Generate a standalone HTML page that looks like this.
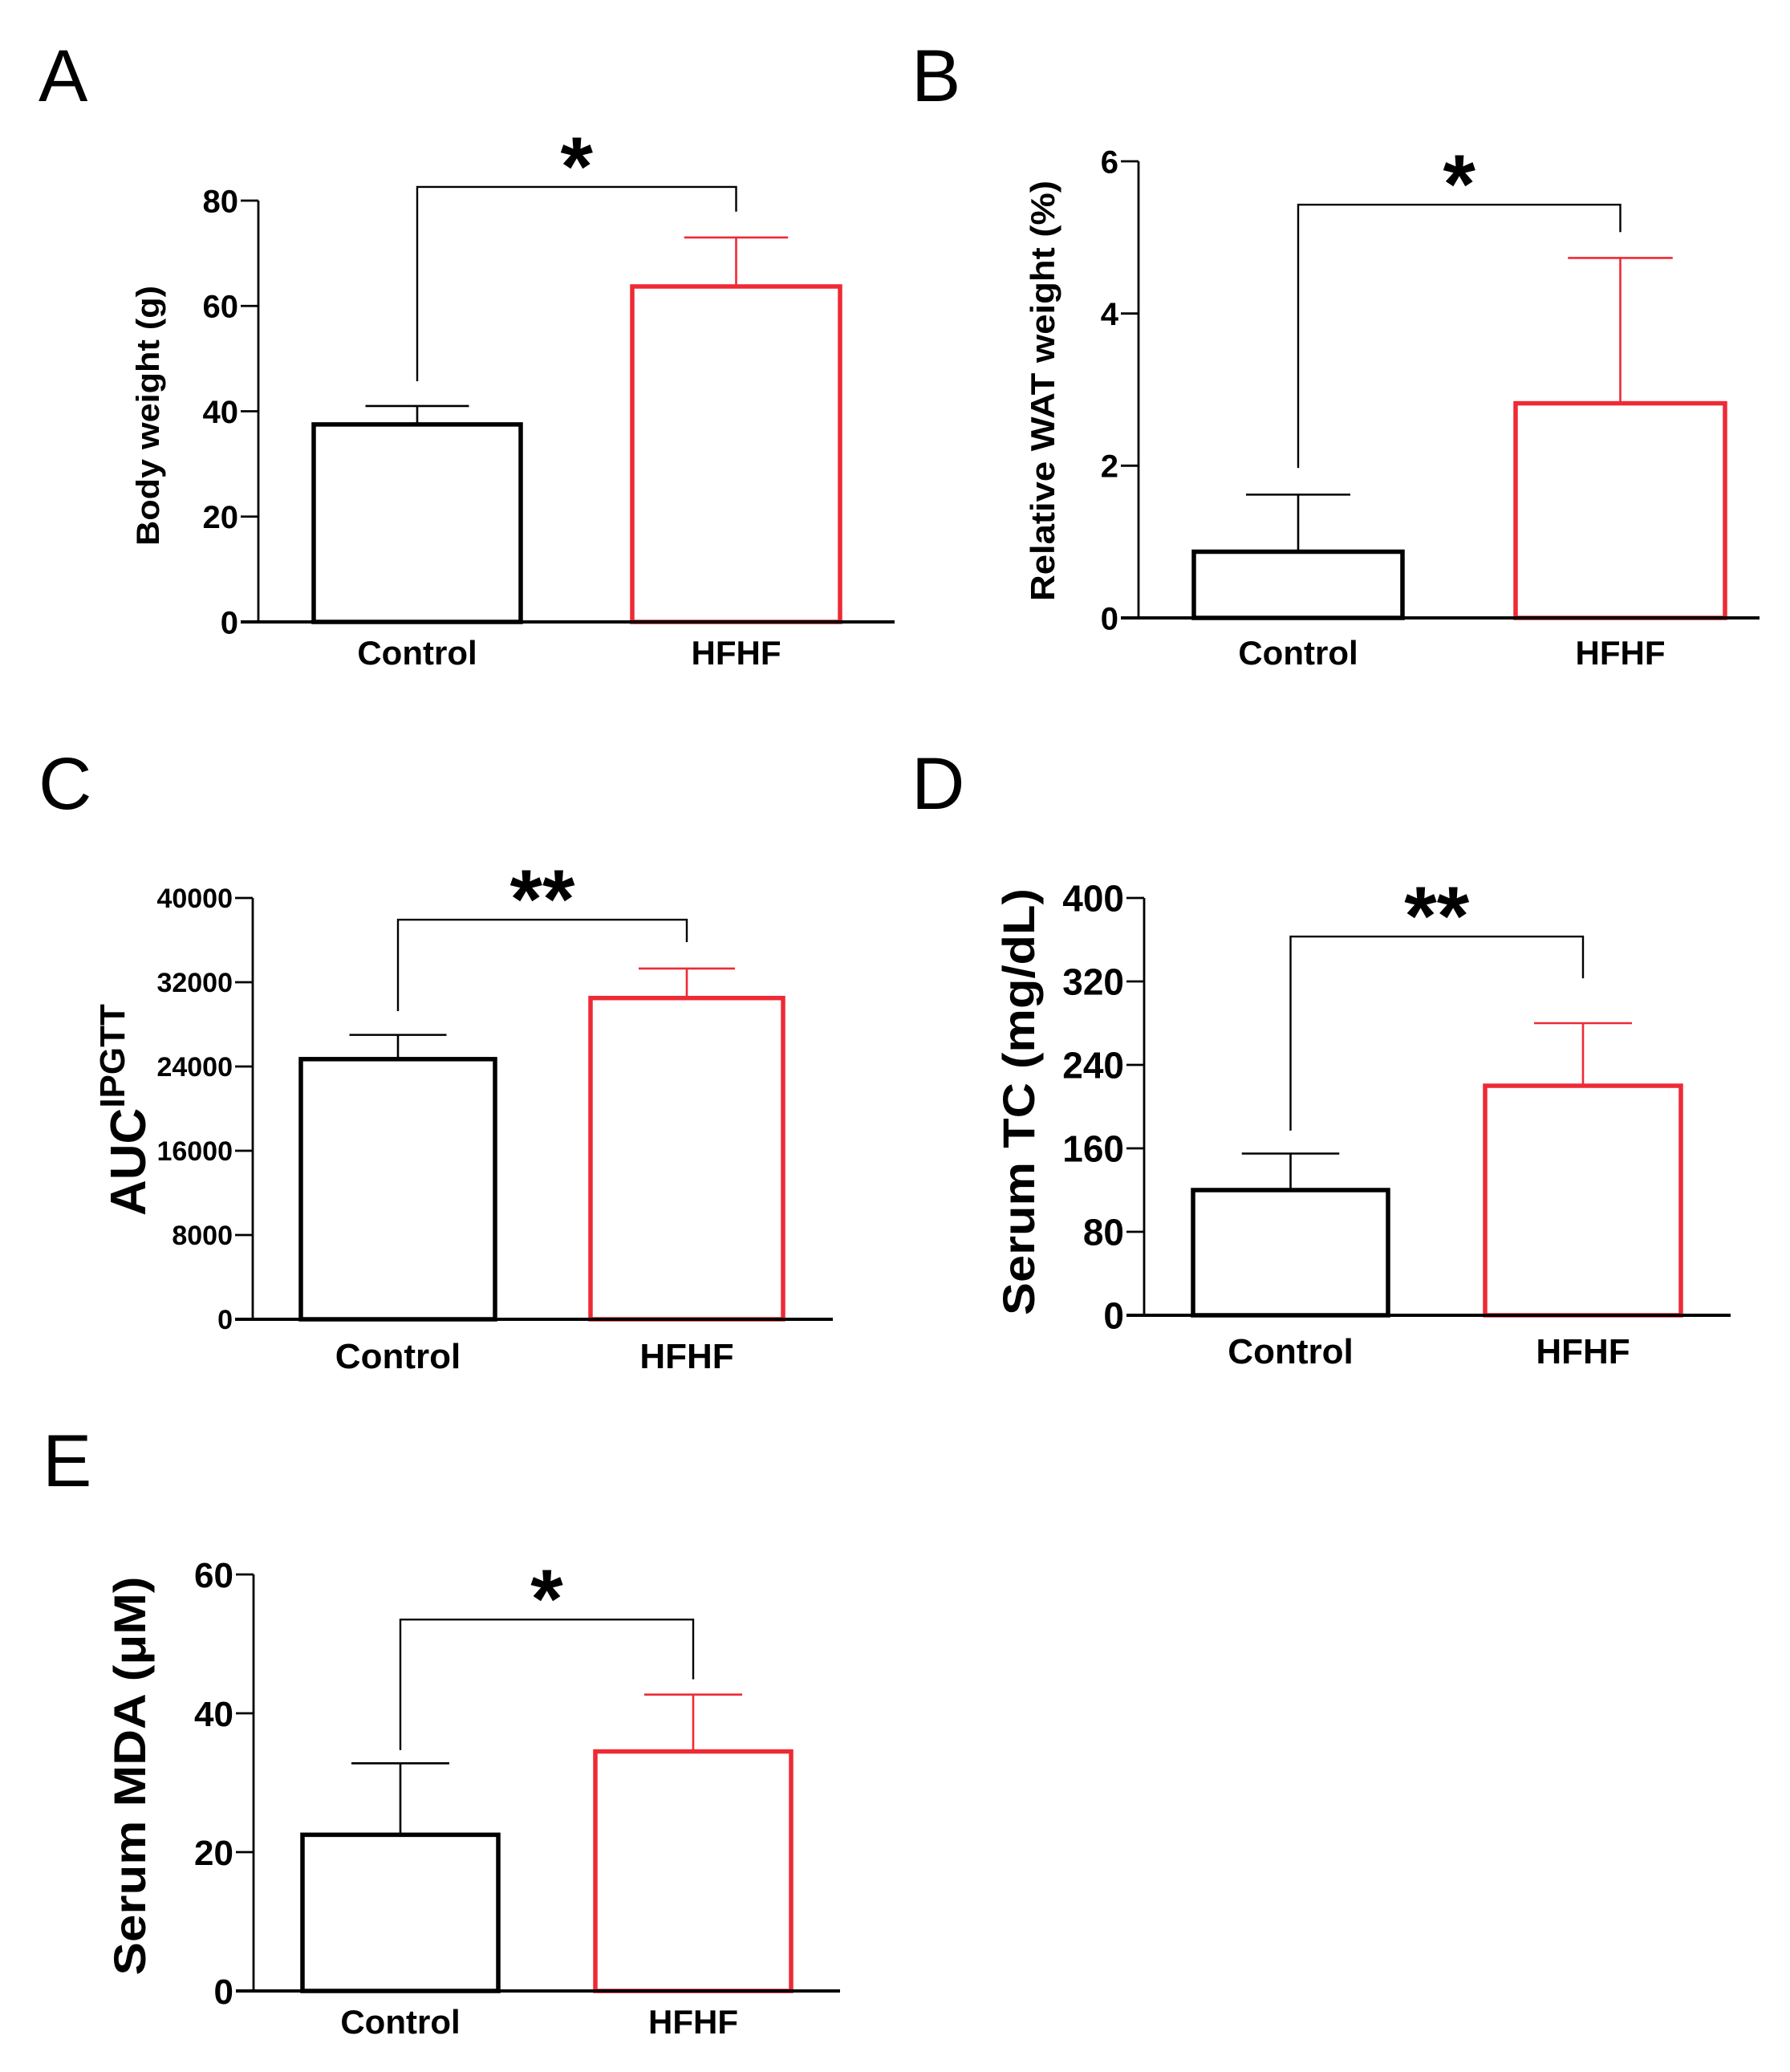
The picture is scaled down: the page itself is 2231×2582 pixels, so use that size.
<!DOCTYPE html>
<html><head><meta charset="utf-8"><title>Figure panels A-E</title>
<style>html,body{margin:0;padding:0;background:#fff}svg{display:block}</style></head>
<body>
<svg id="fig" xmlns="http://www.w3.org/2000/svg" width="2231" height="2582" viewBox="0 0 2231 2582" font-family="'Liberation Sans', Arial, sans-serif"></svg>
<script>
// ---- data ----
const categories = ["Control", "HFHF"];
const bodyWeight = [37.5, 63.7];
const bodyWeightErr = [41, 73];
const bodyWeightTicks = [0, 20, 40, 60, 80];
const watWeight = [0.87, 2.82];
const watWeightErr = [1.62, 4.73];
const watWeightTicks = [0, 2, 4, 6];
const aucValues = [24700, 30500];
const aucErr = [27000, 33300];
const aucTicks = [0, 8000, 16000, 24000, 32000, 40000];
const tcValues = [120, 220];
const tcErr = [155, 280];
const tcTicks = [0, 80, 160, 240, 320, 400];
const mdaValues = [22.5, 34.5];
const mdaErr = [32.8, 42.7];
const mdaTicks = [0, 20, 40, 60];
const bracketA = [82.6, 45.7, 77.9];
const bracketB = [5.43, 1.97, 5.07];
const bracketC = [37940, 29260, 35810];
const bracketD = [363, 177, 323];
const bracketE = [53.5, 34.7, 44.9];
const sigLabels = ["*", "*", "**", "**", "*"];

const NS = "http://www.w3.org/2000/svg";
const svg = document.getElementById("fig");
const RED = "#ee2a35";
function mk(tag, attrs, parent) {
  const e = document.createElementNS(NS, tag);
  for (const k in attrs) e.setAttribute(k, attrs[k]);
  (parent || svg).appendChild(e);
  return e;
}

const panels = [
  {id:"a", letter:"A", lx:48, ly:126, ax:322, y0:775, yTop:250, xEnd:1115, ymax:80, bars:[[391,649],[788,1047]],
   vals:bodyWeight, err:bodyWeightErr, ticks:bodyWeightTicks, br:bracketA, tf:40, cf:42, cy:828,
   title:"Body weight  (g)", tx:198, ty:518, tfs:40, tlen:324},
  {id:"b", letter:"B", lx:1136, ly:126, ax:1419, y0:770, yTop:201, xEnd:2193, ymax:6, bars:[[1488,1748],[1889,2150]],
   vals:watWeight, err:watWeightErr, ticks:watWeightTicks, br:bracketB, tf:40, cf:42, cy:828,
   title:"Relative WAT weight (%)", tx:1314, ty:487, tfs:42, tlen:524},
  {id:"c", letter:"C", lx:48, ly:1008, ax:315, y0:1644, yTop:1119, xEnd:1038, ymax:40000, bars:[[375,617],[736,976]],
   vals:aucValues, err:aucErr, ticks:aucTicks, br:bracketC, tf:34, cf:44, cy:1705, auc:true},
  {id:"d", letter:"D", lx:1136, ly:1008, ax:1426, y0:1639, yTop:1119, xEnd:2157, ymax:400, bars:[[1487,1730],[1851,2095]],
   vals:tcValues, err:tcErr, ticks:tcTicks, br:bracketD, tf:46, cf:44, cy:1699,
   title:"Serum TC (mg/dL)", tx:1289, ty:1373, tfs:56, tlen:532},
  {id:"e", letter:"E", lx:53, ly:1852, ax:316, y0:2481, yTop:1962, xEnd:1047, ymax:60, bars:[[377,621],[742,986]],
   vals:mdaValues, err:mdaErr, ticks:mdaTicks, br:bracketE, tf:44, cf:42, cy:2534,
   title:"Serum MDA (μM)", tx:181, ty:2213, tfs:56, tlen:497}
];

panels.forEach((p, pi) => {
  const g = mk("g", {});
  
  
  const ys = v => p.y0 - (v / p.ymax) * (p.y0 - p.yTop);

  const L = mk("text", {x:p.lx, y:p.ly, "font-size":92, fill:"#000"}, g);
  L.textContent = p.letter;
  
  

  p.vals.forEach((v, i) => {
    const [x1, x2] = p.bars[i];
    const col = i === 0 ? "#000" : RED;
    const cx = (x1 + x2) / 2, half = (x2 - x1) / 4;
    const eb = mk("path", {d:`M${cx},${ys(v)} V${ys(p.err[i])} M${cx-half},${ys(p.err[i])} H${cx+half}`, stroke:col, "stroke-width":2.6, fill:"none"}, g);
    
    
    const r = mk("rect", {x:x1, y:ys(v), width:x2-x1, height:p.y0-ys(v), fill:"#fff", stroke:col, "stroke-width":5.5}, g);
    
    
    const c = mk("text", {x:cx, y:p.cy, "font-size":p.cf, "font-weight":"bold", "text-anchor":"middle", fill:"#000"}, g);
    c.textContent = categories[i];
    
    
  });

  const ya = mk("line", {x1:p.ax, y1:p.yTop, x2:p.ax, y2:p.y0, stroke:"#000", "stroke-width":2.8}, g);
  
  
  const xa = mk("line", {x1:p.ax-22, y1:p.y0, x2:p.xEnd, y2:p.y0, stroke:"#000", "stroke-width":4}, g);
  
  
  p.ticks.forEach(t => {
    const y = ys(t);
    const tk = mk("line", {x1:p.ax-22, y1:y, x2:p.ax, y2:y, stroke:"#000", "stroke-width":2.8}, g);
    
    
    const tl = mk("text", {x:p.ax-25, y:y + p.tf*0.36, "font-size":p.tf, "font-weight":"bold", "text-anchor":"end", fill:"#000"}, g);
    tl.textContent = String(t);
    
    
  });

  const c0 = (p.bars[0][0] + p.bars[0][1]) / 2, c1 = (p.bars[1][0] + p.bars[1][1]) / 2;
  const bk = mk("path", {d:`M${c0},${ys(p.br[1])} V${ys(p.br[0])} H${c1} V${ys(p.br[2])}`, stroke:"#000", "stroke-width":2.4, fill:"none"}, g);
  
  
  const st = mk("text", {x:(c0+c1)/2, y:ys(p.br[0]) + 10, "font-size":104, "font-weight":"bold", "text-anchor":"middle", fill:"#000"}, g);
  st.textContent = sigLabels[pi];
  
  

  if (p.auc) {
    const t = mk("text", {x:0, y:0, "font-weight":"bold", fill:"#000", transform:"translate(181,1515) rotate(-90)"}, g);
    
    
    const a = mk("tspan", {"font-size":62}, t); a.textContent = "AUC";
    const s = mk("tspan", {"font-size":44, dy:-26}, t); s.textContent = "IPGTT";
  } else {
    const t = mk("text", {x:0, y:0, "font-size":p.tfs, "font-weight":"bold", "text-anchor":"middle", fill:"#000",
      textLength:p.tlen, lengthAdjust:"spacingAndGlyphs", transform:`translate(${p.tx},${p.ty}) rotate(-90)`}, g);
    t.textContent = p.title;
    
    
  }
});
</script>
</body></html>
